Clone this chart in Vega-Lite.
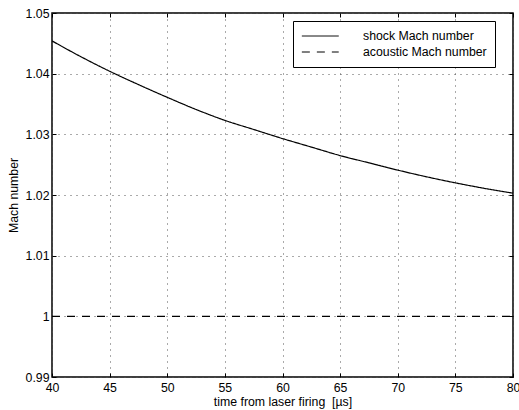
{
  "$schema": "https://vega.github.io/schema/vega-lite/v6.json",
  "width": 461,
  "height": 364,
  "autosize": {"type": "none"},
  "padding": {"left": 52, "top": 13, "right": 6, "bottom": 33},
  "background": "white",
  "config": {
    "font": "Liberation Sans",
    "view": {"stroke": "black", "strokeWidth": 1.5},
    "axis": {
      "labelFont": "Liberation Sans",
      "labelFontSize": 12.3,
      "labelColor": "black",
      "titleFont": "Liberation Sans",
      "titleFontSize": 12.3,
      "titleFontWeight": "normal",
      "titleColor": "black",
      "tickColor": "black",
      "domainColor": "black",
      "gridColor": "#555555",
      "gridDash": [1, 5],
      "gridWidth": 1
    }
  },
  "data": {
    "values": [
      {"t": 40, "M": 1.0454, "series": "shock Mach number"},
      {"t": 42.5, "M": 1.0428, "series": "shock Mach number"},
      {"t": 45, "M": 1.0404, "series": "shock Mach number"},
      {"t": 47.5, "M": 1.0382, "series": "shock Mach number"},
      {"t": 50, "M": 1.0361, "series": "shock Mach number"},
      {"t": 52.5, "M": 1.0341, "series": "shock Mach number"},
      {"t": 55, "M": 1.0323, "series": "shock Mach number"},
      {"t": 57.5, "M": 1.0308, "series": "shock Mach number"},
      {"t": 60, "M": 1.0293, "series": "shock Mach number"},
      {"t": 62.5, "M": 1.0279, "series": "shock Mach number"},
      {"t": 65, "M": 1.0265, "series": "shock Mach number"},
      {"t": 67.5, "M": 1.0253, "series": "shock Mach number"},
      {"t": 70, "M": 1.0241, "series": "shock Mach number"},
      {"t": 72.5, "M": 1.0230, "series": "shock Mach number"},
      {"t": 75, "M": 1.0220, "series": "shock Mach number"},
      {"t": 77.5, "M": 1.0211, "series": "shock Mach number"},
      {"t": 80, "M": 1.0203, "series": "shock Mach number"},
      {"t": 40, "M": 1.0, "series": "acoustic Mach number"},
      {"t": 80, "M": 1.0, "series": "acoustic Mach number"}
    ]
  },
  "layer": [
    {
      "mark": {"type": "line", "strokeWidth": 1.2, "clip": true, "interpolate": "monotone"},
      "encoding": {
        "x": {
          "field": "t", "type": "quantitative",
          "scale": {"domain": [40, 80], "nice": false},
          "axis": {
            "title": "time from laser firing \u00a0[µs]",
            "values": [40, 45, 50, 55, 60, 65, 70, 75, 80],
            "grid": true, "tickSize": -4, "labelPadding": 8.5, "titlePadding": 2,
            "domain": false, "labelFlush": false, "labelOverlap": false
          }
        },
        "y": {
          "field": "M", "type": "quantitative",
          "scale": {"domain": [0.99, 1.05], "nice": false, "zero": false},
          "axis": {
            "title": "Mach number",
            "values": [0.99, 1.0, 1.01, 1.02, 1.03, 1.04, 1.05],
            "format": "~g",
            "grid": true, "tickSize": -4, "labelPadding": 7, "titlePadding": 5,
            "domain": false, "labelFlush": false, "labelOverlap": false
          }
        },
        "strokeDash": {
          "field": "series", "type": "nominal",
          "scale": {"domain": ["shock Mach number", "acoustic Mach number"], "range": [[1, 0], [8, 7]]},
          "legend": {
            "title": null,
            "orient": "none",
            "legendX": 241,
            "legendY": 8,
            "fillColor": "white",
            "strokeColor": "black",
            "padding": 8,
            "symbolType": "M-1,0H5",
            "symbolSize": 151,
            "symbolStrokeWidth": 1,
            "symbolStrokeColor": "black",
            "symbolFillColor": "transparent",
            "labelOffset": 48,
            "labelFontSize": 12.3,
            "labelColor": "black",
            "labelFont": "Liberation Sans",
            "labelExpr": "datum.label + '\u00a0\u00a0'",
            "rowPadding": 2
          }
        },
        "color": {"value": "black"}
      }
    },
    {
      "mark": {"type": "point", "opacity": 0},
      "encoding": {
        "x": {
          "field": "t", "type": "quantitative",
          "scale": {"domain": [40, 80], "nice": false},
          "axis": {"orient": "top", "title": null, "labels": false, "grid": false, "domain": false, "tickSize": -4,
                   "values": [40, 45, 50, 55, 60, 65, 70, 75, 80]}
        },
        "y": {
          "field": "M", "type": "quantitative",
          "scale": {"domain": [0.99, 1.05], "nice": false, "zero": false},
          "axis": {"orient": "right", "title": null, "labels": false, "grid": false, "domain": false, "tickSize": -4,
                   "values": [0.99, 1.0, 1.01, 1.02, 1.03, 1.04, 1.05]}
        }
      }
    }
  ],
  "resolve": {"axis": {"x": "independent", "y": "independent"}}
}
